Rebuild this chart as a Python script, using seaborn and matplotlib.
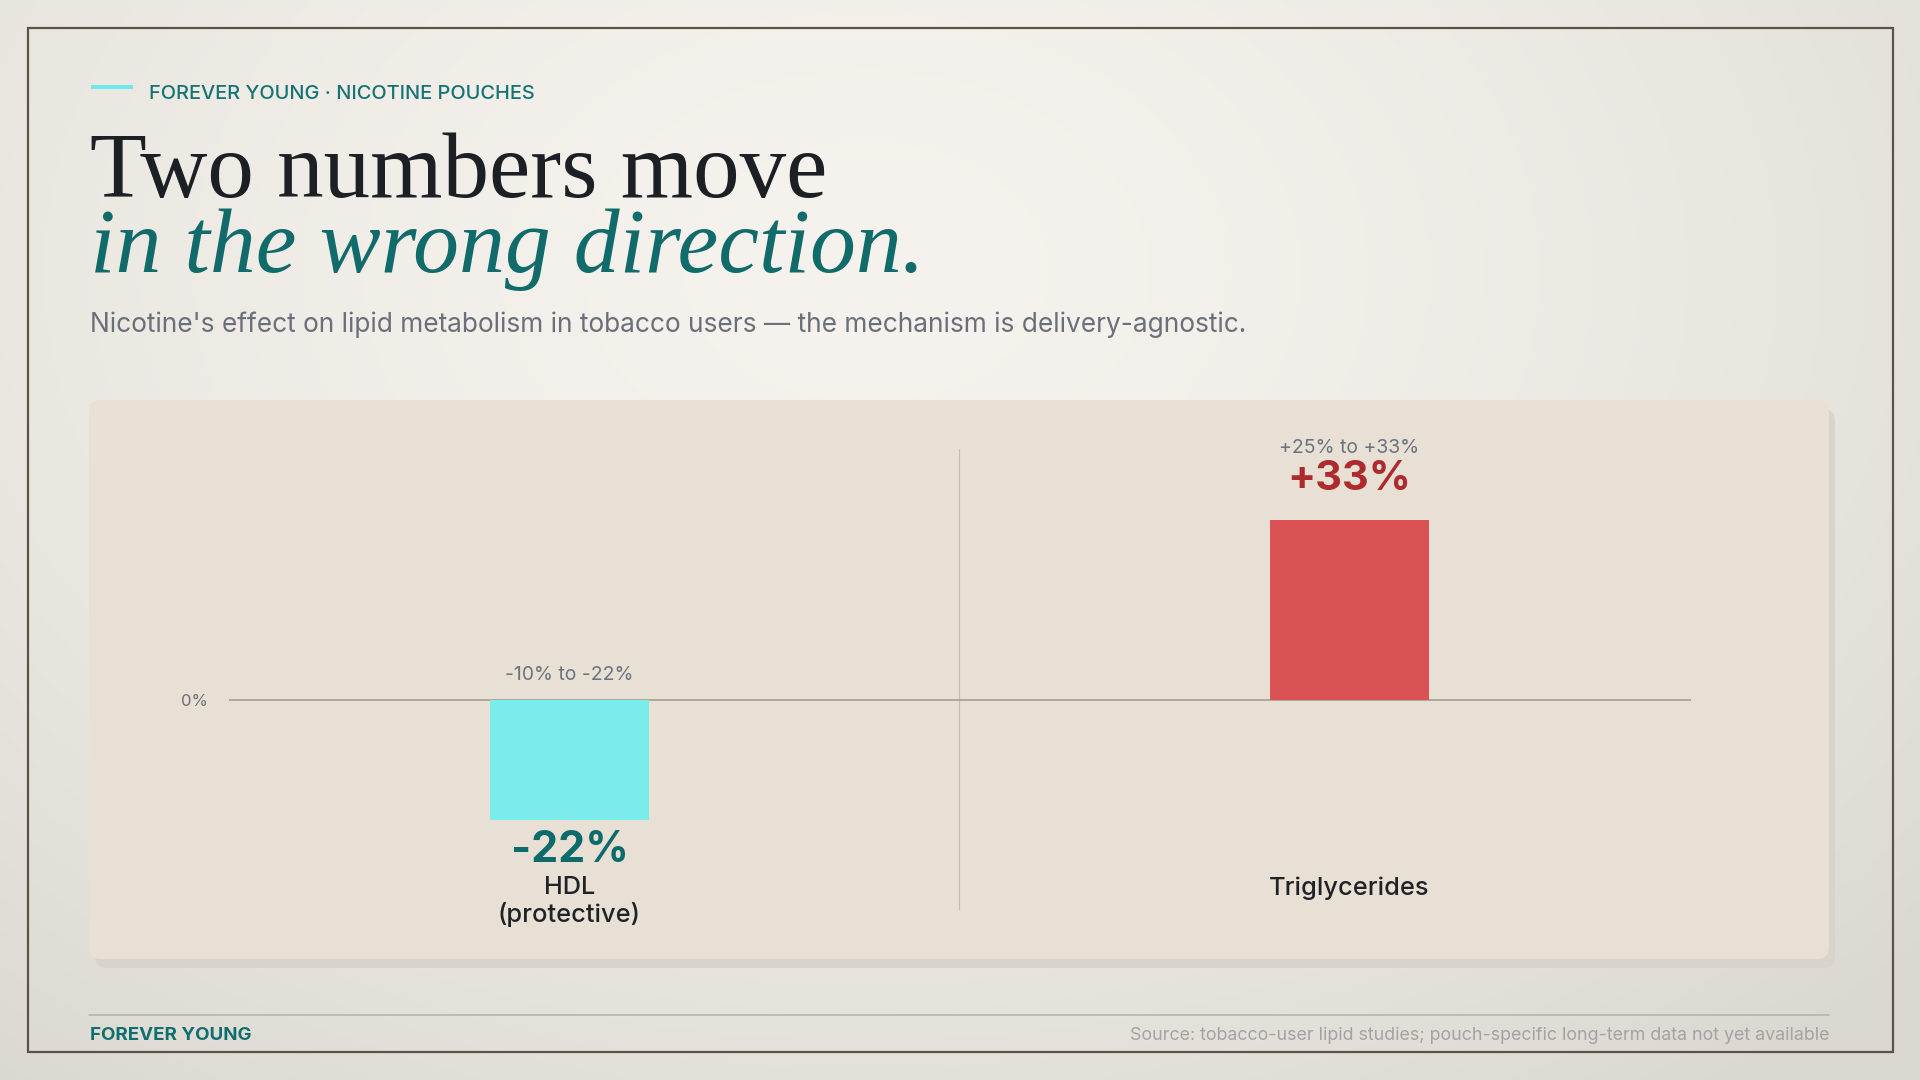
import numpy as np
import pandas as pd
import matplotlib
matplotlib.use("Agg")
import matplotlib.pyplot as plt
import seaborn as sns
from matplotlib.patches import FancyBboxPatch, Rectangle

# ---------------- data ----------------
categories = ["HDL\n(protective)", "Triglycerides"]
values = [-22, 33]
range_labels = ["-10% to -22%", "+25% to +33%"]
value_labels = ["-22%", "+33%"]
bar_colors = ["#79ECEB", "#DA5254"]
label_colors = ["#0E6B6B", "#AD2B2C"]
zero_tick = [0]
zero_tick_label = ["0%"]

W, H = 1920, 1080
sns.set_theme(style="white")
plt.rcParams["font.family"] = ["Inter", "DejaVu Sans"]

fig = plt.figure(figsize=(19.2, 10.8), dpi=100)
PX = 72 / 100  # points per pixel

# ---------------- background (pixel coords) ----------------
bg = fig.add_axes([0, 0, 1, 1], zorder=0)
bg.set_xlim(0, W)
bg.set_ylim(H, 0)
bg.axis("off")

yy, xx = np.mgrid[0:H:4, 0:W:4]
r = np.sqrt(((xx - W * 0.45) / (W * 0.75)) ** 2 + ((yy - H * 0.25) / (H * 0.95)) ** 2)
t = np.clip(r, 0, 1) ** 1.6
c_center = np.array([0xF6, 0xF3, 0xEE]) / 255
c_edge = np.array([0xDB, 0xD8, 0xD1]) / 255
img = c_center[None, None, :] * (1 - t[..., None]) + c_edge[None, None, :] * t[..., None]
bg.imshow(img, extent=(0, W, H, 0), aspect="auto", zorder=0, interpolation="bilinear")

bg.add_patch(Rectangle((28, 28), 1865, 1024, fill=False, ec="#5B5344", lw=2.2 * PX, zorder=1))

# panel + shadow
bg.add_patch(FancyBboxPatch((95, 409), 1740, 559, boxstyle="round,pad=0,rounding_size=12",
                            fc="#D8D4CC", ec="none", zorder=2))
bg.add_patch(FancyBboxPatch((89, 400), 1740, 559, boxstyle="round,pad=0,rounding_size=12",
                            fc="#E8E0D4", ec="none", zorder=3))

# accent line
bg.plot([91, 133], [87, 87], color="#6EE8E8", lw=4 * PX, solid_capstyle="butt", zorder=4)

texts_to_fit = []

kick = bg.text(149, 94, "FOREVER YOUNG · NICOTINE POUCHES", color="#147373", fontsize=15,
               va="center", ha="left", fontweight="medium", zorder=5)
texts_to_fit.append((kick, 384))

t1 = bg.text(90, 197, "Two numbers move", family=["Liberation Serif", "DejaVu Serif"],
             color="#1C1F24", fontsize=70, va="baseline", ha="left", zorder=5)
texts_to_fit.append((t1, 738))
t2 = bg.text(90, 272, "in the wrong direction.", family=["Liberation Serif", "DejaVu Serif"],
             style="italic", color="#116B6B", fontsize=70, va="baseline", ha="left", zorder=5)
texts_to_fit.append((t2, 835))

sub = bg.text(90, 325, "Nicotine's effect on lipid metabolism in tobacco users \u2014 the mechanism is delivery-agnostic.",
              color="#6B6F7A", fontsize=17, va="center", ha="left", zorder=5)
texts_to_fit.append((sub, 1158))

bg.plot([89, 1829], [1015, 1015], color="#B4AFA6", lw=1.5 * PX, zorder=4)
fy = bg.text(90, 1036, "FOREVER YOUNG", color="#0F6E6E", fontweight="bold", fontsize=13,
             va="center", ha="left", zorder=5)
texts_to_fit.append((fy, 162))
src = bg.text(1829, 1036, "Source: tobacco-user lipid studies; pouch-specific long-term data not yet available",
              color="#A3A3A3", fontsize=11, va="center", ha="right", zorder=5)
texts_to_fit.append((src, 698))

# ---------------- chart ----------------
ax = fig.add_axes([229 / W, (H - 910) / H, (1691 - 229) / W, (910 - 449) / H], zorder=2)
ax.patch.set_alpha(0)

df = pd.DataFrame({"metric": categories, "change": values})
sns.barplot(data=df, x="metric", y="change", hue="metric", palette=bar_colors,
            width=0.204, saturation=1, legend=False, linewidth=0, ax=ax, zorder=3)

ax.set_xlim(-0.4365, 1.4378)
ax.set_ylim(-38.4, 45.9)
ax.axhline(0, color="#A59B8B", lw=1.6 * PX, zorder=2)
ax.axvline(0.5, color="#C8BEB0", lw=1.2 * PX, zorder=1)
for s in ax.spines.values():
    s.set_visible(False)
ax.set_xticks([])
ax.set_yticks(zero_tick)
ax.set_yticklabels(zero_tick_label)
ax.tick_params(axis="y", length=0, pad=21 * PX, labelsize=12, labelcolor="#6B6F7A")
ax.set_xlabel("")
ax.set_ylabel("")
ax.grid(False)

range_widths = [128, 140]
value_widths = [118, 124]
for i, (v, rl, vl, lc) in enumerate(zip(values, range_labels, value_labels, label_colors)):
    if v < 0:
        ra = ax.annotate(rl, xy=(i, 0), xytext=(0, 25), textcoords="offset pixels",
                         ha="center", va="center", color="#6B7280", fontsize=13, zorder=5)
        va_ = ax.annotate(vl, xy=(i, v), xytext=(0, -30), textcoords="offset pixels",
                          ha="center", va="center", color=lc, fontsize=30, fontweight="bold", zorder=5)
    else:
        ra = ax.annotate(rl, xy=(i, v), xytext=(0, 72), textcoords="offset pixels",
                         ha="center", va="center", color="#6B7280", fontsize=13, zorder=5)
        va_ = ax.annotate(vl, xy=(i, v), xytext=(0, 41), textcoords="offset pixels",
                          ha="center", va="center", color=lc, fontsize=30, fontweight="bold", zorder=5)
    texts_to_fit.append((ra, range_widths[i]))
    texts_to_fit.append((va_, value_widths[i]))

cat_texts = []
for i, cat in enumerate(categories):
    ct = ax.text(i, (910 - 876) / 461, cat, transform=ax.get_xaxis_transform(),
                 ha="center", va="top", color="#1F2226", fontsize=16, fontweight="medium",
                 linespacing=1.15, zorder=5)
    cat_texts.append(ct)
texts_to_fit.append((cat_texts[1], 159))

# ---------------- fit text widths ----------------
fig.canvas.draw()
renderer = fig.canvas.get_renderer()
for txt, target in texts_to_fit:
    bb = txt.get_window_extent(renderer)
    if bb.width > 0:
        txt.set_fontsize(txt.get_fontsize() * target / bb.width)
# make HDL label same size as Triglycerides
cat_texts[0].set_fontsize(cat_texts[1].get_fontsize())

fig.savefig("out.png", dpi=100)
